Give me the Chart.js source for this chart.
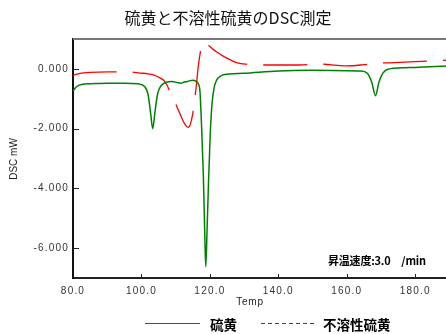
<!DOCTYPE html>
<html>
<head>
<meta charset="utf-8">
<script src="https://cdn.jsdelivr.net/npm/chart.js@4.4.0/dist/chart.umd.min.js"></script>
<style>
  body { margin: 0; background: #fff; }
  #wrap { width: 446px; height: 334px; position: relative; }
</style>
</head>
<body>
<div id="wrap"><canvas id="dscChart"></canvas></div>
<script>
// 硫黄 (green, solid)
const tempSulfur = [80, 81, 82.5, 85, 90, 95, 99, 101, 102, 102.7, 103.3, 104, 104.7, 105.5, 107, 109,
    110.5, 111.5, 112.5, 113.5, 115, 116, 116.6, 117.1, 117.6, 118.1, 118.5, 118.8, 119.2, 119.6, 120.1,
    120.6, 121.2, 122, 123, 124, 130, 140, 150, 160, 164, 166, 167.3, 168.4, 169.4, 170.5, 172.5, 180, 189];
const dscSulfur = [-0.75, -0.6, -0.52, -0.5, -0.48, -0.48, -0.5, -0.6, -0.9, -1.5, -2.0, -1.4, -0.85, -0.6, -0.46, -0.42,
    -0.46, -0.48, -0.44, -0.42, -0.38, -0.42, -0.5, -0.75, -2.0, -3.6, -5.5, -6.62, -5.3, -3.8, -2.2,
    -1.2, -0.65, -0.37, -0.25, -0.2, -0.15, -0.07, -0.05, -0.06, -0.07, -0.15, -0.45, -0.9, -0.45, -0.15, 0.0, 0.05, 0.1];

// 不溶性硫黄 (red, dashed)
const tempInsoluble = [80, 82, 85, 90, 93, 96, 99.6, 102, 103.5, 105.4, 106.5, 107.5, 108.3, 109.3, 110.5, 112, 113,
    113.7, 114.3, 115, 115.3, 115.6, 116, 116.6, 117.2, 117.8, 118.6, 119.5, 120.5, 121.8, 124, 126, 128, 131, 134,
    140, 146, 152, 155, 158, 160, 165, 169, 174, 180, 189];
const dscInsoluble = [-0.22, -0.15, -0.12, -0.1, -0.1, -0.1, -0.14, -0.17, -0.2, -0.3, -0.38, -0.55, -0.76, -1.0, -1.3, -1.7, -1.9,
    -1.96, -1.85, -1.5, -1.26, -1.0, -0.6, 0.08, 0.55, 0.85, 0.9, 0.8, 0.7, 0.58, 0.42, 0.3, 0.2, 0.15, 0.13,
    0.13, 0.13, 0.16, 0.14, 0.11, 0.1, 0.14, 0.19, 0.21, 0.24, 0.29];

const xTicks = [80, 100, 120, 140, 160, 180];
const yTicks = [-6, -4, -2, 0];

const seriesNames = ['硫黄', '不溶性硫黄'];
const titleText = '硫黄と不溶性硫黄のDSC測定';
const noteText = '昇温速度:3.0\u3000/min';

function toPoints(xs, ys) {
    return xs.map((x, i) => ({ x: x, y: ys[i] }));
}

// タイトル・凡例・内向き目盛りは自前で描く
const decor = {
    id: 'decor',
    beforeDraw(chart) {
        chart.ctx.letterSpacing = '1.2px';
    },
    afterDraw(chart) {
        const ctx = chart.ctx;
        const a = chart.chartArea;
        const xs = chart.scales.x;
        const ys = chart.scales.y;
        ctx.save();
        ctx.letterSpacing = '0px';

        // top border
        ctx.strokeStyle = '#777';
        ctx.lineWidth = 2;
        ctx.beginPath();
        ctx.moveTo(a.left, a.top);
        ctx.lineTo(a.right, a.top);
        ctx.stroke();

        // ticks pointing inside
        ctx.strokeStyle = '#222';
        ctx.lineWidth = 1;
        yTicks.forEach(v => {
            const y = Math.round(ys.getPixelForValue(v)) + 0.5;
            ctx.beginPath();
            ctx.moveTo(a.left, y);
            ctx.lineTo(a.left + 6, y);
            ctx.stroke();
        });
        xTicks.slice(1).forEach(v => {
            const x = Math.round(xs.getPixelForValue(v)) + 0.5;
            ctx.beginPath();
            ctx.moveTo(x, a.bottom);
            ctx.lineTo(x, a.bottom - 4);
            ctx.stroke();
        });

        ctx.fillStyle = '#111';
        ctx.textAlign = 'center';
        ctx.textBaseline = 'middle';

        // title
        ctx.font = '16px "Noto Sans CJK JP"';
        ctx.fillText(titleText, 228, 18);

        // axis titles
        ctx.fillStyle = '#222';
        ctx.font = '10px "Liberation Sans"';
        ctx.letterSpacing = '0.8px';
        ctx.fillText('Temp', 250, 302);
        ctx.letterSpacing = '0px';
        ctx.save();
        ctx.translate(14, 159);
        ctx.rotate(-Math.PI / 2);
        ctx.fillText('DSC mW', 0, 0);
        ctx.restore();

        // note
        ctx.fillStyle = '#000';
        ctx.textAlign = 'left';
        ctx.font = 'bold 11px "Noto Sans CJK JP"';
        ctx.letterSpacing = '-0.2px';
        ctx.fillText(noteText, 328, 261);
        ctx.letterSpacing = '0px';

        // legend
        ctx.strokeStyle = 'rgb(0,128,0)';
        ctx.beginPath();
        ctx.moveTo(145, 323.5);
        ctx.lineTo(200, 323.5);
        ctx.stroke();
        ctx.strokeStyle = 'rgb(220,0,0)';
        ctx.setLineDash([4, 3]);
        ctx.beginPath();
        ctx.moveTo(261, 323.5);
        ctx.lineTo(317, 323.5);
        ctx.stroke();
        ctx.setLineDash([]);
        ctx.font = 'bold 13.5px "Noto Sans CJK JP"';
        ctx.fillText(seriesNames[0], 210, 325);
        ctx.fillText(seriesNames[1], 323, 325);

        ctx.restore();
    }
};

new Chart(document.getElementById('dscChart'), {
    type: 'line',
    data: {
        datasets: [{
            label: seriesNames[0],
            data: toPoints(tempSulfur, dscSulfur),
            borderColor: 'rgb(0,128,0)',
            borderWidth: 1.5,
            pointRadius: 0,
            cubicInterpolationMode: 'monotone'
        }, {
            label: seriesNames[1],
            data: toPoints(tempInsoluble, dscInsoluble),
            borderColor: 'rgb(255,0,0)',
            borderWidth: 1.3,
            borderDash: [44, 16],
            pointRadius: 0,
            cubicInterpolationMode: 'monotone'
        }]
    },
    options: {
        responsive: true,
        maintainAspectRatio: false,
        animation: false,
        layout: { padding: { top: 39, right: 0, left: 0, bottom: 0 } },
        plugins: {
            legend: { display: false },
            title: { display: false },
            tooltip: { enabled: false }
        },
        scales: {
            x: {
                type: 'linear',
                min: 80,
                max: 189,
                afterBuildTicks: s => { s.ticks = xTicks.map(v => ({ value: v })); },
                afterFit: s => { s.height = 56; },
                grid: { drawOnChartArea: false, drawTicks: false },
                border: { color: '#222', width: 2 },
                ticks: {
                    padding: 7,
                    color: '#333',
                    font: { family: 'Liberation Sans', size: 10 },
                    callback: v => v.toFixed(1)
                }
            },
            y: {
                min: -7,
                max: 1,
                afterBuildTicks: s => { s.ticks = yTicks.map(v => ({ value: v })); },
                afterFit: s => { s.width = 73; },
                grid: { drawOnChartArea: false, drawTicks: false },
                border: { color: '#111', width: 2 },
                ticks: {
                    padding: 4,
                    color: '#333',
                    font: { family: 'Liberation Sans', size: 10 },
                    callback: v => v.toFixed(3)
                }
            }
        }
    },
    plugins: [decor]
});
</script>
</body>
</html>
